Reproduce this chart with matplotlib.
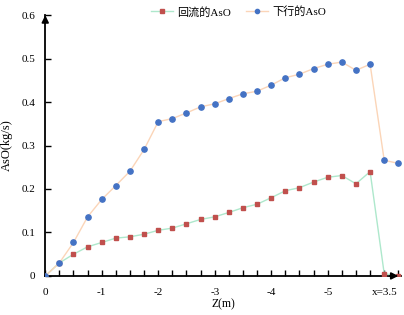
import matplotlib
matplotlib.use("Agg")
import matplotlib.pyplot as plt

plt.rcParams["font.family"] = ["Liberation Serif", "Noto Sans CJK SC", "DejaVu Sans"]

# distance along the column (plotted positive, labelled negative)
z = [0, 0.25, 0.5, 0.75, 1.0, 1.25, 1.5, 1.75, 2.0, 2.25, 2.5, 2.75, 3.0,
     3.25, 3.5, 3.75, 4.0, 4.25, 4.5, 4.75, 5.0, 5.25, 5.5, 5.75, 6.0, 6.25]
reflux = [0, 0.030, 0.050, 0.067, 0.077, 0.087, 0.090, 0.096, 0.105, 0.110,
          0.120, 0.130, 0.136, 0.146, 0.157, 0.165, 0.180, 0.196, 0.203,
          0.216, 0.227, 0.231, 0.212, 0.240, 0.005, 0.0]
down = [0, 0.030, 0.077, 0.136, 0.176, 0.208, 0.241, 0.291, 0.355, 0.362,
        0.375, 0.389, 0.396, 0.408, 0.419, 0.425, 0.439, 0.456, 0.464,
        0.477, 0.487, 0.492, 0.473, 0.487, 0.266, 0.259]
xtick_pos = [0, 1, 2, 3, 4, 5, 6]
xtick_labels = ["0", "-1", "-2", "-3", "-4", "-5", "x=3.5"]
ytick_pos = [0, 0.1, 0.2, 0.3, 0.4, 0.5, 0.6]
ytick_labels = ["0", "0.1", "0.2", "0.3", "0.4", "0.5", "0.6"]

fig = plt.figure(figsize=(4.04, 3.15), dpi=100)
ax = fig.add_axes([0.112, 0.124, 0.881, 0.828])

ax.plot(z, reflux, color="#aee8cc", lw=1.0, marker="s", ms=3.2,
        mfc="#c0504d", mec="#c0504d", label="回流的AsO", zorder=3)
ax.plot(z, down, color="#fbd5b8", lw=1.0, marker="o", ms=3.8,
        mfc="#4472c4", mec="#4472c4", label="下行的AsO", zorder=3)

ax.set_xlim(0, 6.3)
ax.set_ylim(0, 0.6)
ax.set_xticks(xtick_pos)
ax.set_xticklabels(xtick_labels)
ax.set_xticks(z, minor=True)
ax.set_yticks(ytick_pos)
ax.set_yticklabels(ytick_labels)
ax.tick_params(axis="x", which="both", direction="in", length=4, width=1,
               labelsize=8, pad=9)
ax.tick_params(axis="y", direction="in", length=4, width=1, labelsize=8, pad=7)

for s in ["top", "right"]:
    ax.spines[s].set_visible(False)
for s in ["left", "bottom"]:
    ax.spines[s].set_linewidth(1.3)

# arrow heads on the axes
ax.annotate("", xy=(1.0, 0), xycoords="axes fraction", xytext=(0.96, 0),
            arrowprops=dict(arrowstyle="-|>", color="black", lw=1.3,
                            mutation_scale=10), zorder=4)
ax.annotate("", xy=(0, 1.01), xycoords="axes fraction", xytext=(0, 0.96),
            arrowprops=dict(arrowstyle="-|>", color="black", lw=1.3,
                            mutation_scale=10), zorder=4)

ax.set_xlabel("Z(m)", fontsize=8.5)
ax.xaxis.set_label_coords(0.5, -0.085)
ax.set_ylabel("AsO(kg/s)", fontsize=9)
ax.yaxis.set_label_coords(-0.09, 0.5)

fig.legend(loc="center", bbox_to_anchor=(0.59, 0.962), ncol=2, frameon=False,
           fontsize=8, handlelength=2.0, columnspacing=1.3, handletextpad=0.4,
           markerscale=0.8)

fig.savefig("out.png", dpi=100)
